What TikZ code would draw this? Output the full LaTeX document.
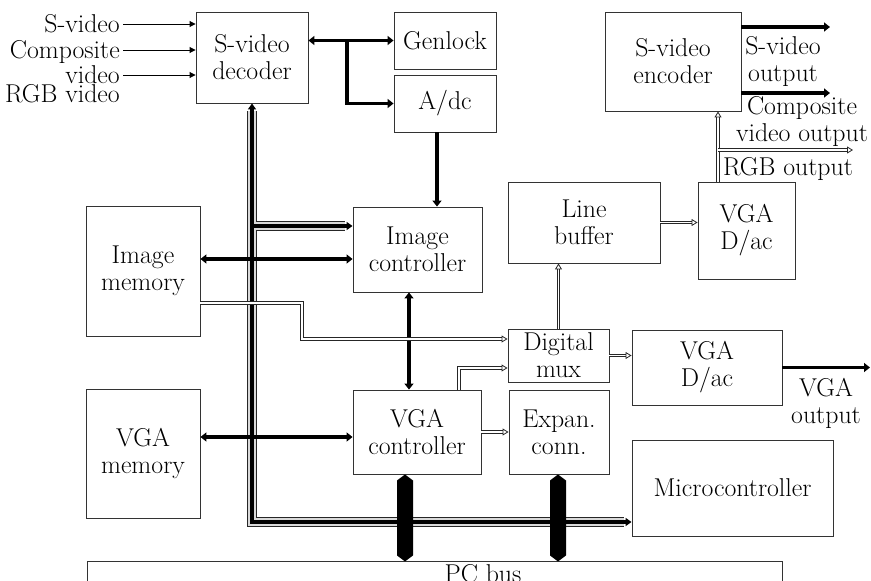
\documentclass[tikz,border=0pt]{standalone}
\usetikzlibrary{arrows.meta}
\newcommand\dgfont{\fontsize{25.8}{27}\selectfont}
\begin{document}
\begin{tikzpicture}[x=1pt,y=-1pt,
  box/.style={draw=black!80, line width=0.9pt, inner sep=0pt, align=center, font=\dgfont},
  lab/.style={inner sep=0pt, align=center, font=\dgfont},
  inlab/.style={lab, anchor=east, text height=16pt, text depth=0pt},
  inp/.style={line width=0.9pt, -{Triangle[length=6pt,width=6pt]}},
  thk/.style={line width=3.6pt, >={Triangle[length=6pt,width=9pt]}},
  hol/.style={draw=black!85, line width=0.8pt, double=white, double distance=1.8pt, -{Triangle[open,length=6pt,width=7pt]}},
  busO/.style={line width=10pt, draw=black!85},
  busW/.style={line width=8pt, draw=black!15},
  busC/.style={line width=4pt, draw=black, >={Triangle[length=6pt,width=8pt]}},
  hexa/.style={fill=black}
]
\useasboundingbox (0,0) rectangle (871,581);
\clip (0,0) rectangle (871,581);

% boxes
\node[box, minimum width=112, minimum height=91] (dec) at (252,57.5) {S-video\\decoder};
\node[box, minimum width=102, minimum height=57] (gen) at (445,40.5) {Genlock};
\node[box, minimum width=102, minimum height=57] (adc) at (445,103.5) {A/dc};
\node[box, minimum width=136, minimum height=99] (enc) at (673,61.5) {S-video\\encoder};
\node[box, minimum width=152, minimum height=81] (lbuf) at (584,222.5) {Line\\buffer};
\node[box, minimum width=97, minimum height=97] (dac1) at (746.5,230.5) {VGA\\D/ac};
\node[box, minimum width=129, minimum height=85] (imgc) at (417.5,249.5) {Image\\controller};
\node[box, minimum width=114, minimum height=130] (imem) at (143,271) {Image\\memory};
\node[box, minimum width=101, minimum height=53] (mux) at (558.5,355.5) {Digital\\mux};
\node[box, minimum width=150, minimum height=75] (dac2) at (707,367.5) {VGA\\D/ac};
\node[box, minimum width=128, minimum height=84] (vgac) at (417,432) {VGA\\controller};
\node[box, minimum width=100, minimum height=84] (exp) at (559,432) {Expan.\\conn.};
\node[box, minimum width=114, minimum height=129] (vmem) at (143,453.5) {VGA\\memory};
\node[box, minimum width=201, minimum height=96] (micro) at (732.5,488) {Microcontroller};
\node[box, minimum width=695, minimum height=60] (pcbus) at (434.5,591) {};
\node[lab] (pctext) at (483,574) {PC bus};

% input labels
\node[inlab] (in1) at (120,24) {S-video};
\node[inlab] (in2) at (120,50) {Composite};
\node[inlab] (in3) at (120,75) {video};
\node[inlab] (in4) at (120,94.5) {RGB video};

% output labels
\node[lab] (lso) at (783,61) {S-video\\output};
\node[lab] (lco) at (802,121) {Composite\\video output};
\node[lab] (lrgb) at (788,169) {RGB output};
\node[lab] (lvga) at (826,403) {VGA\\output};

% coordinates
\coordinate (j1) at (347,40.5);
\coordinate (o1) at (830,27);
\coordinate (o2) at (830,93);
\coordinate (o3) at (853,150);
\coordinate (o4) at (870,367.5);
\coordinate (k1) at (302,303);
\coordinate (k2) at (302,339);
\coordinate (k3) at (459,368);
\coordinate (k4) at (280,259);
\coordinate (k5) at (280,437);
\coordinate (k6) at (409,340);
\coordinate (k7) at (252,522);
\coordinate (k8) at (300,226);

% bus (three layers)
\draw[busO, shorten <=8pt, shorten >=8pt] (dec.south) -- (k7) -- (k7 -| micro.west);
\draw[busO, shorten >=8pt] (dec.south |- k8) -- (imgc.west |- k8);
\draw[busW, shorten <=8pt, shorten >=8pt] (dec.south) -- (k7) -- (k7 -| micro.west);
\draw[busW, shorten >=8pt] (dec.south |- k8) -- (imgc.west |- k8);
\draw[busC, <->] (dec.south) -- (k7) -- (k7 -| micro.west);
\draw[busC, ->] (dec.south |- k8) -- (imgc.west |- k8);

% inputs
\draw[inp] (in1.east) ++(3,0) -- (dec.west |- in1.east);
\draw[inp] (in2.east) ++(3,0) -- (dec.west |- in2.east);
\draw[inp] (in3.east) ++(3,0) -- (dec.west |- in3.east);

% thick connectors
\draw[thk, <->] (gen.west -| dec.east) -- (gen.west);
\draw[thk, ->] (j1) |- (adc.west);
\draw[thk, ->] ([xshift=-8pt]adc.south) -- ([xshift=-8pt]adc.south |- imgc.north);
\draw[thk, ->] (enc.east |- o1) -- (o1);
\draw[thk, ->] (enc.east |- o2) -- (o2);
\draw[thk, ->] (dac2.east) -- (o4);
\draw[thk, <->] (imem.east |- k4) -- (imgc.west |- k4);
\draw[thk, <->] (vmem.east |- k5) -- (vgac.west |- k5);
\draw[thk, <->] (imgc.south -| k6) -- (vgac.north -| k6);

% hollow connectors
\draw[hol] ([xshift=-28.5pt]dac1.north) -- ([xshift=-28.5pt]dac1.north |- enc.south);
\draw[hol] ([xshift=-28.5pt]dac1.north |- o3) -- (o3);
\draw[hol] (lbuf.east) -- (lbuf.east -| dac1.west);
\draw[hol] (mux.north) -- (lbuf.south -| mux.north);
\draw[hol] (mux.east) -- (mux.east -| dac2.west);
\draw[hol] (imem.east |- k1) -- (k1) -- (k2) -- (k2 -| mux.west);
\draw[hol] (vgac.north -| k3) -- (k3) -- (k3 -| mux.west);
\draw[hol] (vgac.east) -- (vgac.east -| exp.west);

% PC bus links
\fill[hexa] ([xshift=-12pt]vgac.south) -- ++(8,6) -- ++(0,75) -- ++(-8,6) -- ++(-8,-6) -- ++(0,-75) -- cycle;
\fill[hexa] ([xshift=-1pt]exp.south) -- ++(8,6) -- ++(0,75) -- ++(-8,6) -- ++(-8,-6) -- ++(0,-75) -- cycle;
\end{tikzpicture}
\end{document}
